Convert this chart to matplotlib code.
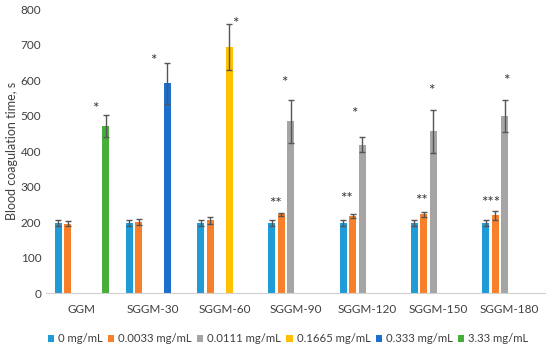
import matplotlib
matplotlib.use('Agg')
import matplotlib.pyplot as plt
import numpy as np

plt.rcParams['font.family'] = ['Lato', 'DejaVu Sans']

groups = ['GGM', 'SGGM-30', 'SGGM-60', 'SGGM-90', 'SGGM-120', 'SGGM-150', 'SGGM-180']
series_names = ['0 mg/mL', '0.0033 mg/mL', '0.0111 mg/mL', '0.1665 mg/mL', '0.333 mg/mL', '3.33 mg/mL']
colors = ['#1f9bd7', '#f9802a', '#a5a5a5', '#ffc000', '#1d6fcc', '#47ad3b']

nan = np.nan
v_0 = [197, 197, 197, 197, 197, 197, 197]
e_0 = [8, 8, 8, 8, 8, 8, 8]
v_0033 = [195, 200, 205, 222, 217, 222, 219]
e_0033 = [7, 9, 9, 5, 6, 7, 12]
v_0111 = [nan, nan, nan, 484, 418, 456, 499]
e_0111 = [nan, nan, nan, 60, 21, 60, 45]
v_1665 = [nan, nan, 694, nan, nan, nan, nan]
e_1665 = [nan, nan, 65, nan, nan, nan, nan]
v_333 = [nan, 591, nan, nan, nan, nan, nan]
e_333 = [nan, 58, nan, nan, nan, nan, nan]
v_333b = [470, nan, nan, nan, nan, nan, nan]
e_333b = [31, nan, nan, nan, nan, nan, nan]

values = [v_0, v_0033, v_0111, v_1665, v_333, v_333b]
errors = [e_0, e_0033, e_0111, e_1665, e_333, e_333b]

# significance marks: (group index, x offset, y, text)
stars = [(0, 0.19, 518, '*'), (1, 0.0, 653, '*'), (2, 0.15, 758, '*'),
         (3, -0.16, 591, '*'), (4, -0.18, 504, '*'), (5, -0.09, 569, '*'),
         (6, -0.04, 597, '*'),
         (3, -0.28, 251, '**'), (4, -0.28, 265, '**'), (5, -0.24, 259, '**'),
         (6, -0.26, 253, '***')]

fig = plt.figure(figsize=(5.5, 3.49), dpi=100)
ax = fig.add_axes([0.084, 0.16, 0.907, 0.814])

x = np.arange(len(groups))
slot = 0.133
width = 0.10
for k, (vals, errs) in enumerate(zip(values, errors)):
    vals = np.array(vals, dtype=float)
    errs = np.array(errs, dtype=float)
    m = ~np.isnan(vals)
    pos = x + (k - 2.5) * slot
    ax.bar(pos[m], vals[m], width, color=colors[k], label=series_names[k],
           yerr=errs[m], capsize=2.5,
           error_kw=dict(ecolor='#555555', elinewidth=1, capthick=1))

for gi, dx, y, t in stars:
    ax.text(gi + dx, y, t, ha='center', va='center', fontsize=11, color='#333333')

ax.set_xlim(-0.5, len(groups) - 0.5)
ax.set_ylim(0, 800)
ax.set_yticks(np.arange(0, 801, 100))
ax.set_xticks(x)
ax.set_xticklabels(groups)
ax.tick_params(axis='both', length=0, labelsize=8.5, colors='#404040')
ax.tick_params(axis='x', pad=8)
for s in ['top', 'right', 'left']:
    ax.spines[s].set_visible(False)
ax.spines['bottom'].set_color('#d0d0d0')
ax.set_ylabel('Blood coagulation time, s', fontsize=9, color='#404040', labelpad=2)

ax.legend(loc='upper center', bbox_to_anchor=(0.485, -0.125), ncol=6, frameon=False,
          fontsize=8.2, handlelength=0.55, handleheight=0.55, handletextpad=0.35,
          columnspacing=0.45, labelcolor='#404040', borderaxespad=0)

fig.savefig('out.png', dpi=100)
